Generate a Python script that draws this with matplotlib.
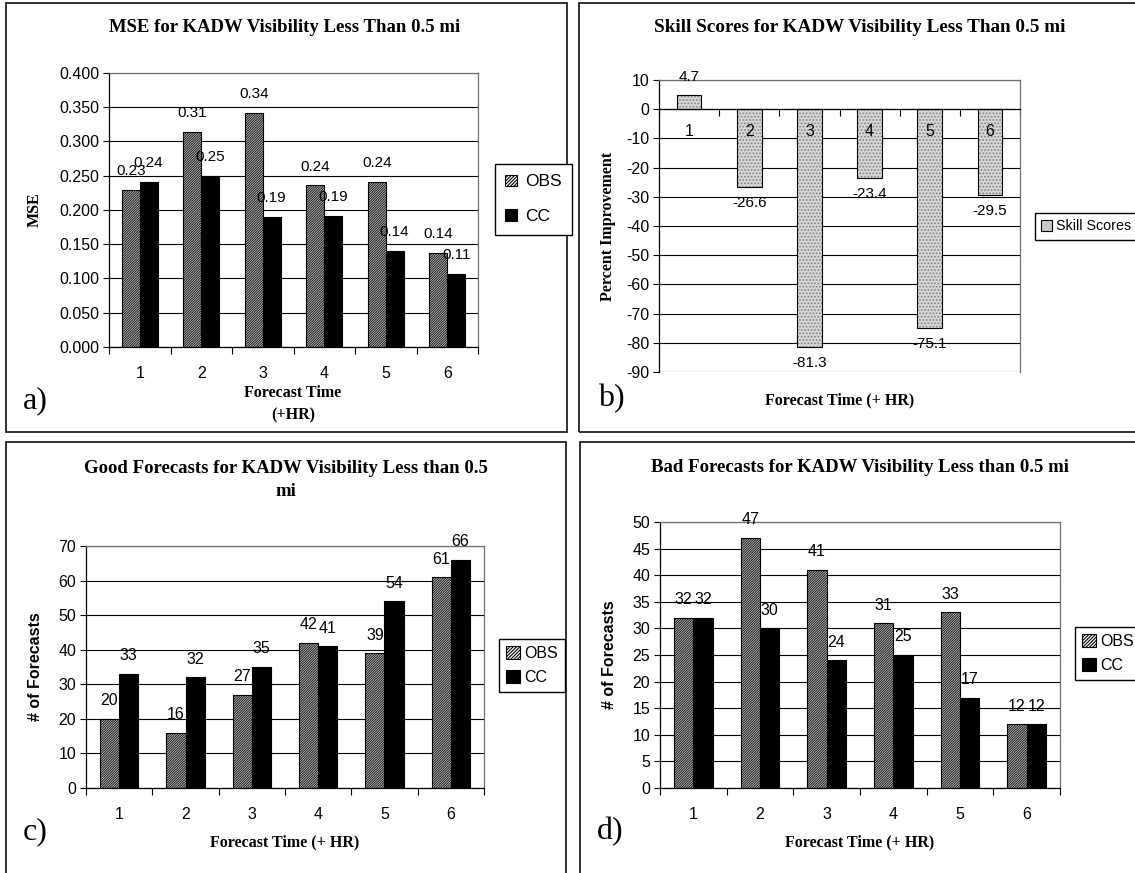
import matplotlib
matplotlib.use("Agg")
import matplotlib.pyplot as plt
from matplotlib.patches import Patch, Rectangle
from matplotlib.ticker import FormatStrFormatter, MultipleLocator

# ---------------- data ----------------
hours = [1, 2, 3, 4, 5, 6]
hour_labels = ["1", "2", "3", "4", "5", "6"]

mse_obs = [0.229, 0.314, 0.342, 0.236, 0.241, 0.137]
mse_cc = [0.241, 0.250, 0.190, 0.191, 0.140, 0.107]

skill_scores = [4.7, -26.6, -81.3, -23.4, -75.1, -29.5]

good_obs = [20, 16, 27, 42, 39, 61]
good_cc = [33, 32, 35, 41, 54, 66]

bad_obs = [32, 47, 41, 31, 33, 12]
bad_cc = [32, 30, 24, 25, 17, 12]

series_names = ["OBS", "CC"]
skill_name = "Skill Scores"

titles = [
    "MSE for KADW Visibility Less Than 0.5 mi",
    "Skill Scores for KADW Visibility Less Than 0.5 mi",
    "Good Forecasts for KADW Visibility Less than 0.5\nmi",
    "Bad Forecasts for KADW Visibility Less than 0.5 mi",
]

# ---------------- style ----------------
W, H = 1135, 873
SERIF = "Liberation Serif"
SANS = "Liberation Sans"
plt.rcParams["font.family"] = [SANS, "DejaVu Sans"]
plt.rcParams["hatch.linewidth"] = 0.8

fig = plt.figure(figsize=(W / 100, H / 100), dpi=100)
fig.patch.set_facecolor("white")


def rect(l, t, r, b):
    return [l / W, 1 - b / H, (r - l) / W, (b - t) / H]


def fx(x):
    return x / W


def fy(y):
    return 1 - y / H


OBS_FILL = dict(facecolor="#f0f0f0", edgecolor="#202020", hatch="/" * 14, linewidth=0)
OUTLINE = dict(fill=False, edgecolor="black", linewidth=0.8)
CC_STYLE = dict(facecolor="black", edgecolor="black", linewidth=0.8)
SKILL_FILL = dict(facecolor="#d6d6d6", edgecolor="#808080", hatch=".....", linewidth=0)

OBS_LEG = dict(facecolor="white", edgecolor="black", hatch="/" * 10, linewidth=0.8)
SKILL_LEG = dict(facecolor="#c8c8c8", edgecolor="black", linewidth=0.8)


def style_axes(ax, ymin, ymax, step, fmt, tick_fs):
    ax.set_xlim(0.5, 6.5)
    ax.set_ylim(ymin, ymax)
    ax.yaxis.set_major_locator(MultipleLocator(step))
    ax.yaxis.set_major_formatter(FormatStrFormatter(fmt))
    ax.set_axisbelow(True)
    ax.yaxis.grid(True, color="black", linewidth=0.8)
    ax.set_xticks(hours)
    ax.set_xticklabels(hour_labels)
    ax.set_xticks([h + 0.5 for h in [0] + hours], minor=True)
    ax.tick_params(axis="x", which="major", length=0, pad=14, labelsize=tick_fs)
    ax.tick_params(axis="x", which="minor", length=5, width=0.8, direction="out")
    ax.tick_params(axis="y", length=4, width=0.8, direction="out", labelsize=tick_fs, pad=3)
    for s in ["left", "bottom"]:
        ax.spines[s].set_color("black")
        ax.spines[s].set_linewidth(0.9)
    for s in ["top", "right"]:
        ax.spines[s].set_color("#707070")
        ax.spines[s].set_linewidth(0.9)


def hatched_bars(ax, x, vals, width, fill_style):
    ax.bar(x, vals, width=width, **fill_style)
    return ax.bar(x, vals, width=width, **OUTLINE)


def grouped(ax, obs, cc, fmt, fs, off=13.5):
    w = 0.29
    b1 = hatched_bars(ax, [h - w / 2 for h in hours], obs, w, OBS_FILL)
    b2 = ax.bar([h + w / 2 for h in hours], cc, width=w, **CC_STYLE)
    for bars, vals in ((b1, obs), (b2, cc)):
        for bar, v in zip(bars, vals):
            ax.annotate(fmt.format(v), (bar.get_x() + bar.get_width() / 2, v),
                        xytext=(0, off), textcoords="offset points",
                        ha="center", va="center", fontsize=fs, zorder=5)


def legend2(x, y, fs, spacing, pad, hl=0.85, tp=0.3):
    handles = [Patch(**OBS_LEG), Patch(**CC_STYLE)]
    leg = fig.legend(handles, series_names, loc="upper left",
                     bbox_to_anchor=(fx(x), fy(y)), bbox_transform=fig.transFigure,
                     fontsize=fs, frameon=True, fancybox=False, framealpha=1,
                     edgecolor="black", handlelength=hl, handleheight=hl,
                     handletextpad=tp, labelspacing=spacing, borderpad=pad,
                     borderaxespad=0)
    leg.get_frame().set_linewidth(1.0)
    return leg


def border(l, t, r, b):
    fig.patches.append(Rectangle((fx(l), fy(b)), fx(r - l), (b - t) / H,
                                 transform=fig.transFigure, fill=False,
                                 edgecolor="#222222", linewidth=1.3))


# ---------------- panel a ----------------
axa = fig.add_axes(rect(109, 73, 478, 347))
style_axes(axa, 0, 0.4, 0.05, "%.3f", 11.5)
grouped(axa, mse_obs, mse_cc, "{:.2f}", 11)
legend2(495, 164, 12.5, 1.15, 0.6, hl=0.65, tp=0.5)
fig.text(fx(285), fy(27), titles[0], family=SERIF, weight="bold", fontsize=13.5,
         ha="center", va="center")
fig.text(fx(293), fy(404), "Forecast Time\n(+HR)", family=SERIF, weight="bold",
         fontsize=11.5, ha="center", va="center", linespacing=1.5)
fig.text(fx(35), fy(210), "MSE", family=SERIF, weight="bold", fontsize=11.5,
         rotation=90, ha="center", va="center")
fig.text(fx(35), fy(401), "a)", family=SERIF, fontsize=23, ha="center", va="center")
border(6, 3, 567, 432)

# ---------------- panel b ----------------
axb = fig.add_axes(rect(659, 80, 1020, 372))
style_axes(axb, -90, 10, 10, "%d", 11.5)
axb.spines["bottom"].set_position(("data", 0))
axb.tick_params(axis="x", which="major", labelbottom=False)
bb = hatched_bars(axb, hours, skill_scores, 0.41, SKILL_FILL)
for bar, v in zip(bb, skill_scores):
    axb.annotate(f"{v:.1f}", (bar.get_x() + bar.get_width() / 2, v),
                 xytext=(0, 13 if v > 0 else -11.5), textcoords="offset points",
                 ha="center", va="center", fontsize=11, zorder=5)
for h, lab in zip(hours, hour_labels):
    axb.annotate(lab, (h, 0), xytext=(0, -16), textcoords="offset points",
                 ha="center", va="center", fontsize=11.5, zorder=5)
lb = fig.legend([Patch(**SKILL_LEG)], [skill_name], loc="upper left",
                bbox_to_anchor=(fx(1035), fy(213)), bbox_transform=fig.transFigure,
                fontsize=10.3, frameon=True, fancybox=False, framealpha=1,
                edgecolor="black", handlelength=0.75, handleheight=0.75,
                handletextpad=0.25, borderpad=0.45, borderaxespad=0)
lb.get_frame().set_linewidth(1.0)
fig.text(fx(860), fy(27), titles[1], family=SERIF, weight="bold", fontsize=13.8,
         ha="center", va="center")
fig.text(fx(840), fy(400), "Forecast Time (+ HR)", family=SERIF, weight="bold",
         fontsize=11.5, ha="center", va="center")
fig.text(fx(608), fy(226), "Percent Improvement", family=SERIF, weight="bold",
         fontsize=11.5, rotation=90, ha="center", va="center")
fig.text(fx(611), fy(399), "b)", family=SERIF, fontsize=23, ha="center", va="center")
border(579, 3, 1140, 432)

# ---------------- panel c ----------------
axc = fig.add_axes(rect(86, 546, 484, 788))
style_axes(axc, 0, 70, 10, "%d", 11.5)
grouped(axc, good_obs, good_cc, "{:d}", 11.5, off=13)
legend2(499, 639, 11.5, 0.55, 0.45)
fig.text(fx(286), fy(480), titles[2], family=SERIF, weight="bold", fontsize=13.5,
         ha="center", va="center", linespacing=1.4)
fig.text(fx(285), fy(842), "Forecast Time (+ HR)", family=SERIF, weight="bold",
         fontsize=11.5, ha="center", va="center")
fig.text(fx(36), fy(667), "# of Forecasts", weight="bold", fontsize=11.5,
         rotation=90, ha="center", va="center")
fig.text(fx(35), fy(832), "c)", family=SERIF, fontsize=23, ha="center", va="center")
border(6, 442, 566, 880)

# ---------------- panel d ----------------
axd = fig.add_axes(rect(660, 522, 1060, 788))
style_axes(axd, 0, 50, 5, "%d", 11.5)
grouped(axd, bad_obs, bad_cc, "{:d}", 11.5, off=13)
legend2(1075, 627, 11.5, 0.55, 0.45)
fig.text(fx(860), fy(468), titles[3], family=SERIF, weight="bold", fontsize=13.5,
         ha="center", va="center")
fig.text(fx(860), fy(842), "Forecast Time (+ HR)", family=SERIF, weight="bold",
         fontsize=11.5, ha="center", va="center")
fig.text(fx(610), fy(655), "# of Forecasts", weight="bold", fontsize=11.5,
         rotation=90, ha="center", va="center")
fig.text(fx(610), fy(832), "d)", family=SERIF, fontsize=23, ha="center", va="center")
border(580, 442, 1140, 880)

fig.savefig("out.png", dpi=100, facecolor="white")
